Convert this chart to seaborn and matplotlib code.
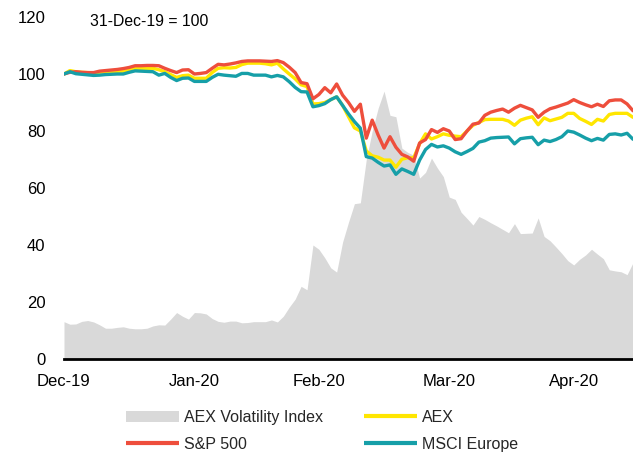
import matplotlib
matplotlib.use("Agg")
import matplotlib.pyplot as plt
from matplotlib.patches import Patch
from matplotlib.lines import Line2D
import numpy as np
import pandas as pd
import seaborn as sns

# ---- data (trading-day index 0 = 31-Dec-19) ----
aex_vol = [13.1, 12.2, 12.3, 13.2, 13.5, 13.0, 12.0, 10.8, 10.8, 11.1,
           11.3, 10.8, 10.6, 10.6, 10.8, 11.6, 12.0, 11.9, 14.0, 16.3,
           15.0, 14.0, 16.3, 16.2, 15.8, 14.2, 13.2, 12.9, 13.3, 13.3,
           12.7, 12.8, 13.1, 13.1, 13.1, 13.7, 13.0, 15.0, 18.2, 21.0,
           25.5, 24.3, 40.0, 38.5, 35.5, 32.0, 30.5, 41.0, 48.0, 54.5,
           54.8, 70.0, 80.0, 88.0, 94.0, 85.5, 85.0, 74.0, 72.5, 71.5,
           63.5, 65.5, 70.5, 67.0, 64.0, 56.8, 56.0, 51.5, 49.3, 47.0,
           50.0, 49.0, 47.8, 46.7, 45.5, 44.3, 47.5, 44.0, 44.1, 44.2,
           49.5, 43.0, 41.5, 39.3, 37.0, 34.5, 33.0, 35.0, 36.5, 38.5,
           36.8, 35.2, 31.3, 30.9, 30.6, 29.6, 33.8]

aex = [100.0, 101.2, 100.8, 100.6, 100.5, 100.4, 100.6, 100.7, 100.8, 100.8,
       100.9, 101.4, 102.0, 102.0, 102.0, 102.0, 101.5, 100.8, 99.8, 98.8,
       99.4, 99.6, 98.5, 98.5, 98.5, 100.5, 102.0, 102.2, 102.1, 102.3,
       103.3, 103.8, 103.8, 103.8, 103.6, 103.2, 103.8, 101.8, 100.0, 98.3,
       96.2, 95.6, 89.5, 89.6, 90.0, 91.0, 92.0, 89.0, 85.0, 81.1,
       80.0, 73.0, 71.3, 70.8, 69.8, 69.8, 67.3, 70.1, 70.6, 70.6,
       75.5, 79.0, 77.2, 78.0, 79.0, 78.5, 78.2, 78.0, 80.0, 82.0,
       83.0, 84.0, 84.1, 84.1, 84.1, 83.5, 82.0, 83.8, 84.5, 85.0,
       82.2, 84.6, 83.6, 84.2, 84.8, 86.2, 86.2, 84.4, 83.4, 82.3,
       84.1, 83.5, 85.8, 86.2, 86.2, 86.2, 84.8]

sp500 = [100.0, 100.6, 100.8, 100.6, 100.5, 100.5, 101.0, 101.2, 101.4, 101.6,
         101.9, 102.3, 102.9, 102.9, 103.0, 103.0, 102.9, 102.0, 101.2, 100.5,
         101.4, 101.5, 100.0, 100.2, 100.5, 102.0, 103.4, 103.2, 103.5, 103.9,
         104.4, 104.6, 104.6, 104.6, 104.5, 104.4, 104.7, 104.0, 102.4, 100.5,
         97.0, 96.6, 91.3, 92.8, 95.2, 93.4, 96.5, 92.6, 90.0, 86.9,
         89.4, 77.5, 83.8, 78.6, 74.0, 78.0, 74.3, 71.8, 70.9, 69.4,
         75.8, 77.0, 80.5, 79.5, 80.8, 80.0, 77.0, 77.3, 80.0, 82.4,
         82.8, 85.5, 86.6, 87.2, 87.7, 86.6, 88.0, 89.0, 88.2, 87.4,
         84.8, 86.6, 87.8, 88.4, 89.1, 89.8, 91.0, 90.0, 89.2, 88.5,
         89.4, 88.6, 90.6, 90.9, 90.9, 89.5, 87.1]

msci_europe = [100.0, 100.8, 100.1, 99.9, 99.7, 99.5, 99.6, 99.8, 99.9, 100.0,
               100.0, 100.6, 101.1, 101.0, 100.9, 100.8, 99.6, 100.2, 98.8, 97.7,
               98.5, 98.6, 97.4, 97.4, 97.4, 98.8, 99.9, 99.6, 99.4, 99.2,
               100.2, 100.2, 99.6, 99.6, 99.6, 99.0, 99.5, 99.0, 97.3, 95.3,
               93.8, 93.7, 88.5, 88.9, 89.6, 91.0, 92.0, 89.0, 86.0, 83.3,
               81.0, 71.0, 70.5, 69.0, 67.7, 68.1, 64.8, 66.7, 65.8, 64.8,
               69.8, 73.5, 75.3, 74.4, 74.8, 74.0, 72.7, 71.8, 72.8, 73.9,
               76.1, 76.6, 77.5, 77.7, 77.8, 77.9, 75.5, 77.3, 77.6, 77.8,
               75.2, 76.8, 76.3, 77.0, 78.0, 80.0, 79.6, 78.6, 77.5, 76.6,
               77.4, 76.8, 78.8, 79.0, 78.6, 79.2, 77.1]

tick_pos = [0, 22, 43, 65, 86]
tick_labels = ["Dec-19", "Jan-20", "Feb-20", "Mar-20", "Apr-20"]
y_ticks = [0, 20, 40, 60, 80, 100, 120]

day = np.arange(len(aex_vol))
df = pd.DataFrame({"day": day, "vol": aex_vol, "aex": aex,
                   "sp": sp500, "msci": msci_europe})

# ---- style ----
sns.set_style("white")
plt.rcParams["font.family"] = ["Liberation Sans", "DejaVu Sans"]

c_vol = "#d9d9d9"
c_aex = "#ffe600"
c_sp = "#ee4e3c"
c_msci = "#169fa8"

fig = plt.figure(figsize=(6.33, 4.57), dpi=100)
ax = fig.add_axes([64 / 633, 98 / 457, 569 / 633, (359 - 17) / 457])

ax.fill_between(df["day"], 0, df["vol"], color=c_vol, linewidth=0, zorder=1)
lw = 2.4
sns.lineplot(data=df, x="day", y="aex", ax=ax, color=c_aex, linewidth=lw, zorder=3)
sns.lineplot(data=df, x="day", y="sp", ax=ax, color=c_sp, linewidth=lw, zorder=4)
sns.lineplot(data=df, x="day", y="msci", ax=ax, color=c_msci, linewidth=lw, zorder=5)

ax.set_xlim(0, 96)
ax.set_ylim(0, 120)
ax.set_xlabel("")
ax.set_ylabel("")
ax.set_xticks(tick_pos)
ax.set_xticklabels(tick_labels)
ax.set_yticks(y_ticks)

for s in ["top", "right", "left"]:
    ax.spines[s].set_visible(False)
ax.spines["bottom"].set_color("black")
ax.spines["bottom"].set_linewidth(2.0)
ax.spines["bottom"].set_zorder(6)

ax.tick_params(axis="x", direction="out", length=4.5, width=1.4, color="black",
               labelsize=12, pad=6, labelcolor="black")
ax.tick_params(axis="y", length=0, labelsize=12, pad=13.5, labelcolor="black")
ax.grid(False)

fig.text(90 / 633, 1 - 22 / 457, "31-Dec-19 = 100", fontsize=11.3,
         va="center", ha="left", color="black")

handles = [
    Patch(facecolor=c_vol, edgecolor="none", label="AEX Volatility Index"),
    Line2D([0], [0], color=c_sp, linewidth=3, solid_capstyle="butt", label="S&P 500"),
    Line2D([0], [0], color=c_aex, linewidth=3, solid_capstyle="butt", label="AEX"),
    Line2D([0], [0], color=c_msci, linewidth=3, solid_capstyle="butt", label="MSCI Europe"),
]
fig.legend(handles=handles, ncol=2, loc="center left",
           bbox_to_anchor=(126 / 633, 1 - 431 / 457), frameon=False,
           fontsize=11.5, handlelength=3.3, handleheight=0.7, handletextpad=0.3,
           columnspacing=2.6, labelspacing=0.75, borderpad=0, borderaxespad=0)

fig.savefig("out.png", dpi=100)
